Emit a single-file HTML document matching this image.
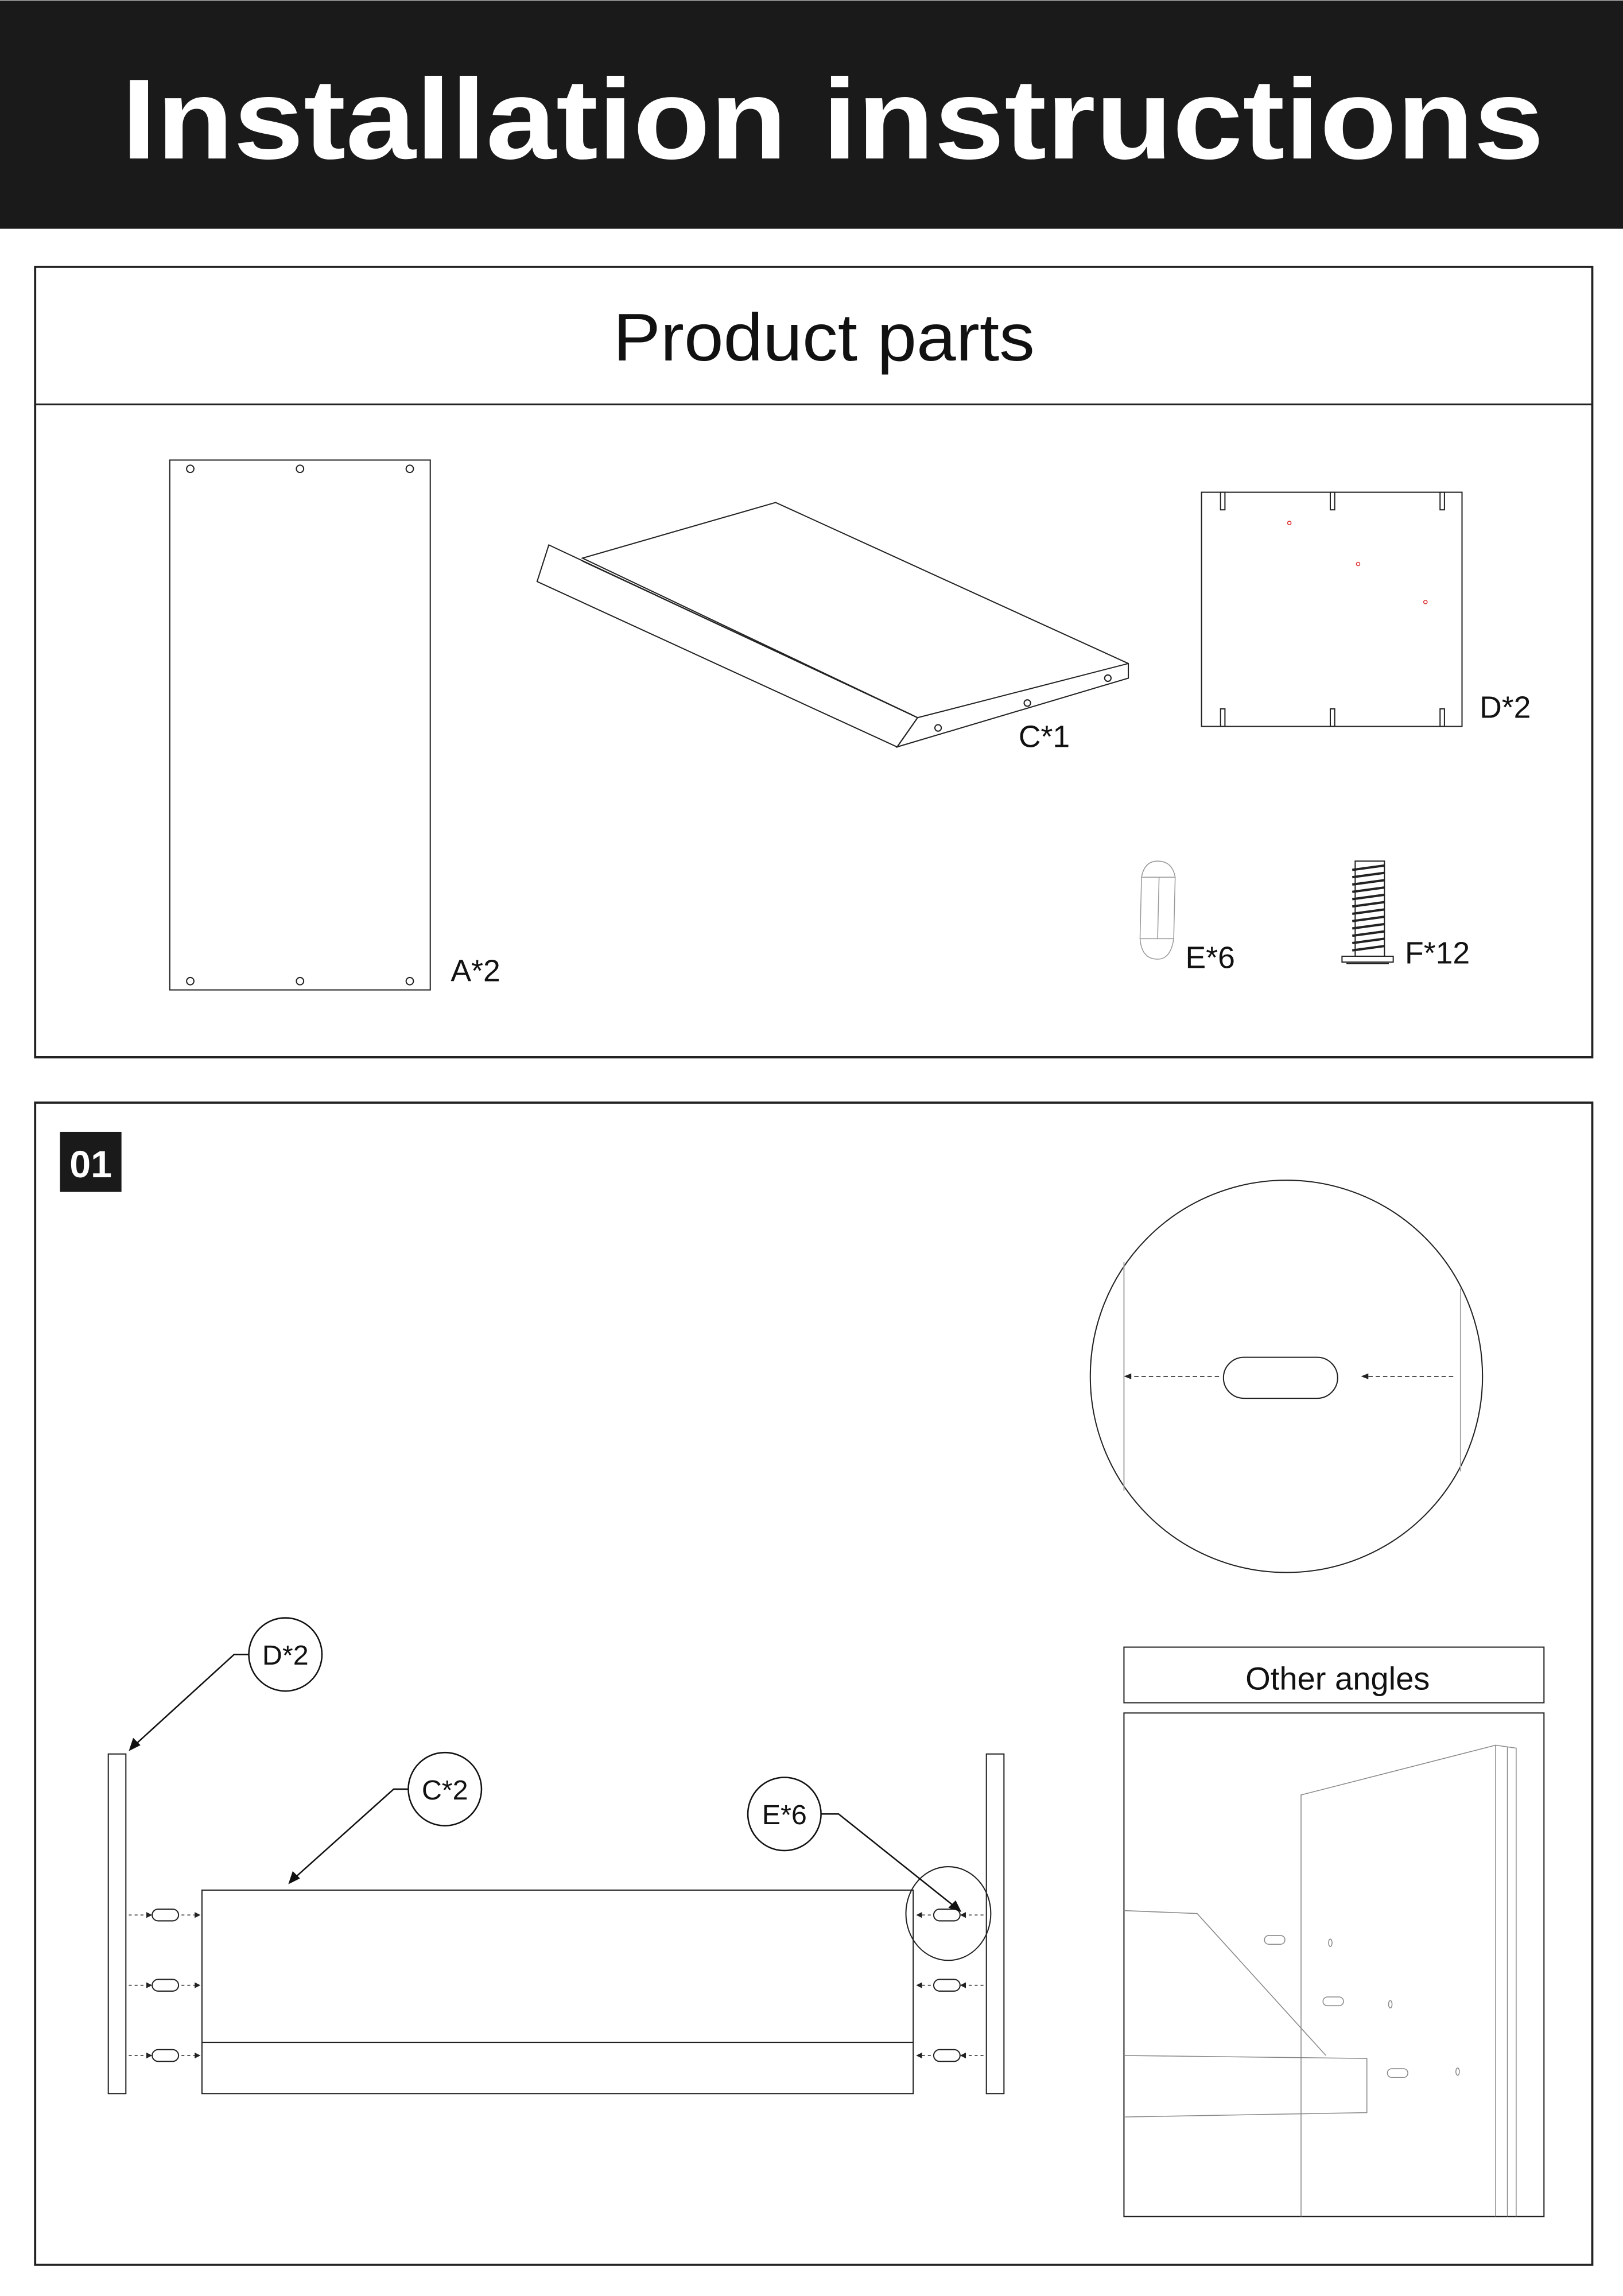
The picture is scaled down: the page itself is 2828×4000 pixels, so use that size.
<!DOCTYPE html>
<html><head><meta charset="utf-8"><style>html,body{margin:0;padding:0;background:#fff}svg{display:block}</style></head>
<body>
<svg xmlns="http://www.w3.org/2000/svg" width="2828" height="4000" viewBox="0 0 1109 1568" font-family="Liberation Sans, DejaVu Sans, sans-serif">
<rect x="0" y="0" width="1109" height="1568" fill="#fff"/>
<rect x="0" y="0" width="1109" height="156" fill="#1a1a1a"/>
<text x="83" y="108" font-size="78" font-weight="bold" fill="#fff" textLength="972" lengthAdjust="spacingAndGlyphs">Installation instructions</text>

<g fill="none" stroke="#222">
<rect x="24" y="182" width="1064" height="540" stroke-width="1.5"/>
<line x1="24" y1="276" x2="1088" y2="276" stroke-width="1.2"/>
</g>
<text x="563" y="246" font-size="46" text-anchor="middle" fill="#111" textLength="288" lengthAdjust="spacingAndGlyphs">Product parts</text>

<g fill="none" stroke="#222" stroke-width="0.8">
<rect x="116" y="314" width="178" height="362"/>
<circle cx="130" cy="320" r="2.5"/><circle cx="205" cy="320" r="2.5"/><circle cx="280" cy="320" r="2.5"/>
<circle cx="130" cy="670" r="2.5"/><circle cx="205" cy="670" r="2.5"/><circle cx="280" cy="670" r="2.5"/>
<!-- C -->
<polygon points="398,381 530,343 771,453 771,463 613,510 627,490"/>
<polygon points="375,372 627,490 613,510 367,397"/>
<line x1="398" y1="383" x2="623" y2="488"/>
<line x1="627" y1="490" x2="771" y2="453"/>
<circle cx="641" cy="497" r="2.2"/><circle cx="702" cy="480" r="2.2"/><circle cx="757" cy="463" r="2.2"/>
<!-- D -->
<rect x="821" y="336" width="178" height="160"/>
<rect x="834" y="336" width="3" height="12"/><rect x="909" y="336" width="3" height="12"/><rect x="984" y="336" width="3" height="12"/>
<rect x="834" y="484" width="3" height="12"/><rect x="909" y="484" width="3" height="12"/><rect x="984" y="484" width="3" height="12"/>
</g>
<g fill="none" stroke="#d33" stroke-width="0.6"><circle cx="881" cy="357" r="1.2"/><circle cx="928" cy="385" r="1.2"/><circle cx="974" cy="411" r="1.2"/></g>
<!-- E -->
<g fill="none" stroke="#999" stroke-width="0.6">
<path d="M780,599 Q782,588 791,588 Q801,588 803,599 L802,641 Q800,655 791,655 Q780,655 779,641 Z"/>
<line x1="780" y1="599" x2="803" y2="599"/><line x1="779" y1="641" x2="802" y2="641"/><line x1="792" y1="599" x2="791" y2="641"/>
</g>
<!-- F -->
<g fill="none" stroke="#222" stroke-width="0.8">
<rect x="926" y="588" width="20" height="65"/>
<rect x="917" y="653" width="35" height="4"/>
<path d="M920,658 L949,658"/>
</g>
<g stroke="#222" stroke-width="1.6" fill="none">
<path d="M924,594 L946,591"/><path d="M924,599 L946,596"/><path d="M924,604 L946,601"/><path d="M924,609 L946,606"/><path d="M924,614 L946,611"/><path d="M924,619 L946,616"/><path d="M924,624 L946,621"/><path d="M924,629 L946,626"/><path d="M924,634 L946,631"/><path d="M924,639 L946,636"/><path d="M924,644 L946,641"/><path d="M924,649 L946,646"/>
</g>
<g font-size="21" fill="#111">
<text x="308" y="670">A*2</text><text x="696" y="510">C*1</text><text x="1011" y="490">D*2</text><text x="810" y="661">E*6</text><text x="960" y="658">F*12</text>
</g>

<!-- Step 01 -->
<rect x="24" y="753" width="1064" height="794" fill="none" stroke="#222" stroke-width="1.5"/>
<rect x="41" y="773" width="42" height="41" fill="#1a1a1a"/>
<text x="62" y="804" font-size="26" font-weight="bold" fill="#fff" text-anchor="middle">01</text>

<g fill="none" stroke="#222" stroke-width="0.8">
<ellipse cx="879" cy="940" rx="134" ry="134"/>
<line x1="768" y1="862" x2="768" y2="1018" stroke="#aaa"/>
<line x1="998" y1="880" x2="998" y2="1005" stroke="#aaa"/>
<rect x="836" y="927" width="78" height="28" rx="14"/>
<line x1="833" y1="940" x2="772" y2="940" stroke-dasharray="3,2" stroke-width="0.6"/>
<line x1="993" y1="940" x2="934" y2="940" stroke-dasharray="3,2" stroke-width="0.6"/>
</g>
<polygon points="768,940 773,938 773,942" fill="#222"/><polygon points="930,940 935,938 935,942" fill="#222"/>

<!-- Other angles -->
<g fill="none" stroke="#222" stroke-width="0.8">
<rect x="768" y="1125" width="287" height="38"/>
<rect x="768" y="1170" width="287" height="344"/>
</g>
<text x="914" y="1154" font-size="22" text-anchor="middle" fill="#111">Other angles</text>
<g fill="none" stroke="#888" stroke-width="0.6">
<polyline points="889,1514 889,1226 1022,1192 1036,1194 1036,1514"/>
<line x1="1022" y1="1192" x2="1022" y2="1514"/><line x1="1030" y1="1193" x2="1030" y2="1514"/>
<polyline points="768,1305 818,1307 906,1404"/>
<polyline points="768,1404 934,1406 934,1443 768,1446"/>
<rect x="864" y="1322" width="14" height="6" rx="3"/><rect x="904" y="1364" width="14" height="6" rx="3"/><rect x="948" y="1413" width="14" height="6" rx="3"/>
<ellipse cx="909" cy="1327" rx="1.2" ry="2.5"/><ellipse cx="950" cy="1369" rx="1.2" ry="2.5"/><ellipse cx="996" cy="1415" rx="1.2" ry="2.5"/>
</g>

<!-- main assembly -->
<g fill="none" stroke="#222" stroke-width="0.8">
<rect x="74" y="1198" width="12" height="232"/>
<rect x="674" y="1198" width="12" height="232"/>
<rect x="138" y="1291" width="486" height="139"/>
<line x1="138" y1="1395" x2="624" y2="1395"/>
<rect x="104" y="1304" width="18" height="8" rx="4"/><rect x="104" y="1352" width="18" height="8" rx="4"/><rect x="104" y="1400" width="18" height="8" rx="4"/>
<rect x="638" y="1304" width="18" height="8" rx="4"/><rect x="638" y="1352" width="18" height="8" rx="4"/><rect x="638" y="1400" width="18" height="8" rx="4"/>
<ellipse cx="648" cy="1307" rx="29" ry="32"/>
</g>
<g stroke="#222" stroke-width="0.6" stroke-dasharray="2,2" fill="none">
<line x1="88" y1="1308" x2="101" y2="1308"/><line x1="124" y1="1308" x2="133" y2="1308"/>
<line x1="88" y1="1356" x2="101" y2="1356"/><line x1="124" y1="1356" x2="133" y2="1356"/>
<line x1="88" y1="1404" x2="101" y2="1404"/><line x1="124" y1="1404" x2="133" y2="1404"/>
<line x1="672" y1="1308" x2="660" y2="1308"/><line x1="636" y1="1308" x2="629" y2="1308"/>
<line x1="672" y1="1356" x2="660" y2="1356"/><line x1="636" y1="1356" x2="629" y2="1356"/>
<line x1="672" y1="1404" x2="660" y2="1404"/><line x1="636" y1="1404" x2="629" y2="1404"/>
</g>
<g fill="#222">
<polygon points="104,1308 100,1306 100,1310"/><polygon points="137,1308 133,1306 133,1310"/>
<polygon points="104,1356 100,1354 100,1358"/><polygon points="137,1356 133,1354 133,1358"/>
<polygon points="104,1404 100,1402 100,1406"/><polygon points="137,1404 133,1402 133,1406"/>
<polygon points="656,1308 660,1306 660,1310"/><polygon points="626,1308 630,1306 630,1310"/>
<polygon points="656,1356 660,1354 660,1358"/><polygon points="626,1356 630,1354 630,1358"/>
<polygon points="656,1404 660,1402 660,1406"/><polygon points="626,1404 630,1402 630,1406"/>
</g>
<!-- callouts -->
<g fill="none" stroke="#111" stroke-width="1">
<circle cx="195" cy="1130" r="25"/><polyline points="170,1130 160,1130 92,1192"/>
<circle cx="304" cy="1222" r="25"/><polyline points="279,1222 269,1222 201,1283"/>
<circle cx="536" cy="1239" r="25"/><polyline points="561,1239 573,1239 652,1302"/>
</g>
<g fill="#111">
<polygon points="88,1196 91,1187 96,1192"/>
<polygon points="197,1287 200,1278 205,1283"/>
<polygon points="657,1306 648,1303 653,1298"/>
</g>
<g font-size="19" fill="#111" text-anchor="middle">
<text x="195" y="1137">D*2</text><text x="304" y="1229">C*2</text><text x="536" y="1246">E*6</text>
</g>
</svg>
</body></html>
